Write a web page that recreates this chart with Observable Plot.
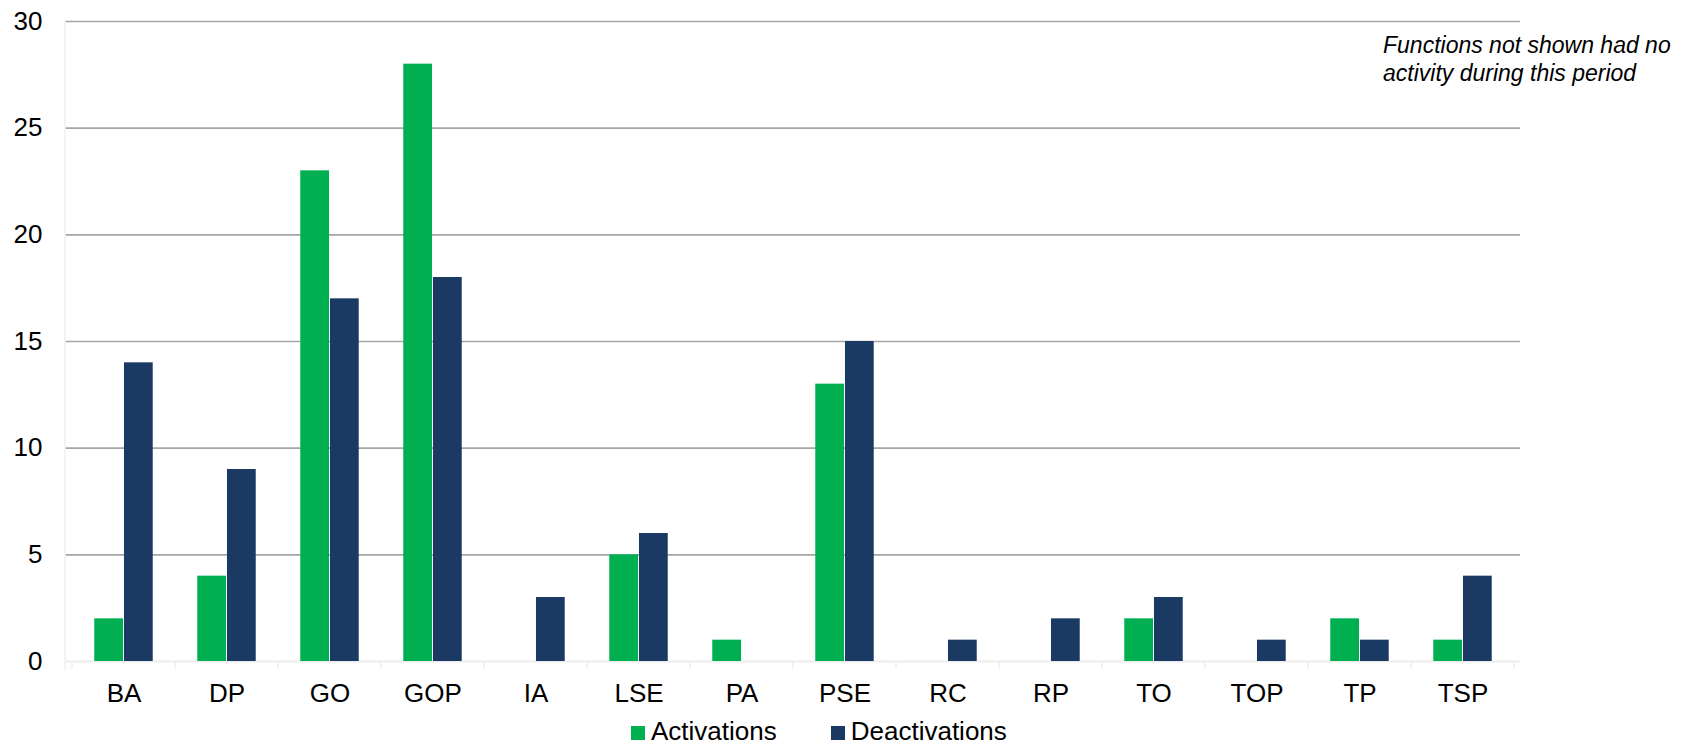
<!DOCTYPE html>
<html>
<head>
<meta charset="utf-8">
<script src="https://cdn.jsdelivr.net/npm/d3@7"></script>
<script src="https://cdn.jsdelivr.net/npm/@observablehq/plot@0.6"></script>
<style>
  html, body { margin: 0; padding: 0; background: #fff; }
  #wrap { position: relative; width: 1695px; height: 745px; font-family: "Liberation Sans", Arial, sans-serif; color: #000; }
  #note { position: absolute; left: 1383px; top: 31px; font-size: 23px; font-style: italic; line-height: 28px; white-space: nowrap; }
  #legend { position: absolute; left: 631px; top: 716px; display: flex; align-items: center; font-size: 26px; line-height: 30px; }
  #legend .item { display: flex; align-items: center; }
  #legend .sw { width: 14px; height: 14px; margin-right: 6px; position: relative; top: 2px; }
</style>
</head>
<body>
<div id="wrap">
  <div id="chart"></div>
  <div id="note">Functions not shown had no<br>activity during this period</div>
  <div id="legend"></div>
</div>
<script>
const categories = ["BA", "DP", "GO", "GOP", "IA", "LSE", "PA", "PSE", "RC", "RP", "TO", "TOP", "TP", "TSP"];
const activations = [2, 4, 23, 28, 0, 5, 1, 13, 0, 0, 2, 0, 2, 1];
const deactivations = [14, 9, 17, 18, 3, 6, 0, 15, 1, 2, 3, 1, 1, 4];
const seriesNames = ["Activations", "Deactivations"];
const seriesColors = ["#00b050", "#1a3a63"];
const yTicks = [0, 5, 10, 15, 20, 25, 30];

const W = 1695, H = 745;
const mL = 65, mR = 175, mT = 21, mB = 84;
const bw = (W - mL - mR) / categories.length;
const barW = bw / 3.5;          // gap width 150%
const gap = (bw - 2 * barW) / 2;

const rows = categories.map((c, i) => ({cat: c, act: activations[i], deact: deactivations[i]}));

// category boundary ticks + faint left axis line
function boundaryTicks(index, scales, values, dims) {
  const x = scales.x;
  const g = d3.create("svg:g");
  const y0 = dims.height - dims.marginBottom;
  const bwid = x.bandwidth ? x.bandwidth() : bw;
  const xs = categories.map(c => x(c) - (x.bandwidth ? 0 : bwid / 2));
  xs.push(xs[xs.length - 1] + bwid);
  g.append("line")
    .attr("x1", dims.marginLeft).attr("x2", dims.marginLeft)
    .attr("y1", dims.marginTop).attr("y2", y0 + 8)
    .attr("stroke", "#f0f0f0").attr("stroke-width", 1.5);
  for (const xv of xs) {
    g.append("line")
      .attr("x1", xv).attr("x2", xv)
      .attr("y1", y0).attr("y2", y0 + 8)
      .attr("stroke", "#eeeeee").attr("stroke-width", 1.5);
  }
  return g.node();
}

const chart = Plot.plot({
  width: W,
  height: H,
  marginLeft: mL,
  marginRight: mR,
  marginTop: mT,
  marginBottom: mB,
  style: {fontFamily: "Liberation Sans, Arial, sans-serif", fontSize: "26px", color: "#000", background: "#fff"},
  x: {domain: categories, padding: 0, label: null},
  y: {domain: [0, 30], label: null},
  marks: [
    Plot.ruleY(yTicks.filter(t => t > 0), {stroke: "#a6a6a6", strokeWidth: 1.6}),
    Plot.ruleY([0], {stroke: "#ededed", strokeWidth: 2}),
    boundaryTicks,
    Plot.barY(rows, {x: "cat", y: "act", fill: seriesColors[0], insetLeft: gap, insetRight: gap + barW}),
    Plot.barY(rows, {x: "cat", y: "deact", fill: seriesColors[1], insetLeft: gap + barW, insetRight: gap}),
    Plot.axisY({ticks: yTicks, tickSize: 0, tickPadding: 23, fontSize: 26, label: null}),
    Plot.axisX({tickSize: 0, tickPadding: 22.5, fontSize: 26, label: null})
  ]
});
document.getElementById("chart").appendChild(chart);

const legend = d3.select("#legend");
seriesNames.forEach((name, i) => {
  const item = legend.append("div").attr("class", "item").style("margin-right", i === 0 ? "54px" : "0px");
  item.append("div").attr("class", "sw").style("background", seriesColors[i]);
  item.append("span").text(name);
});
</script>
</body>
</html>
